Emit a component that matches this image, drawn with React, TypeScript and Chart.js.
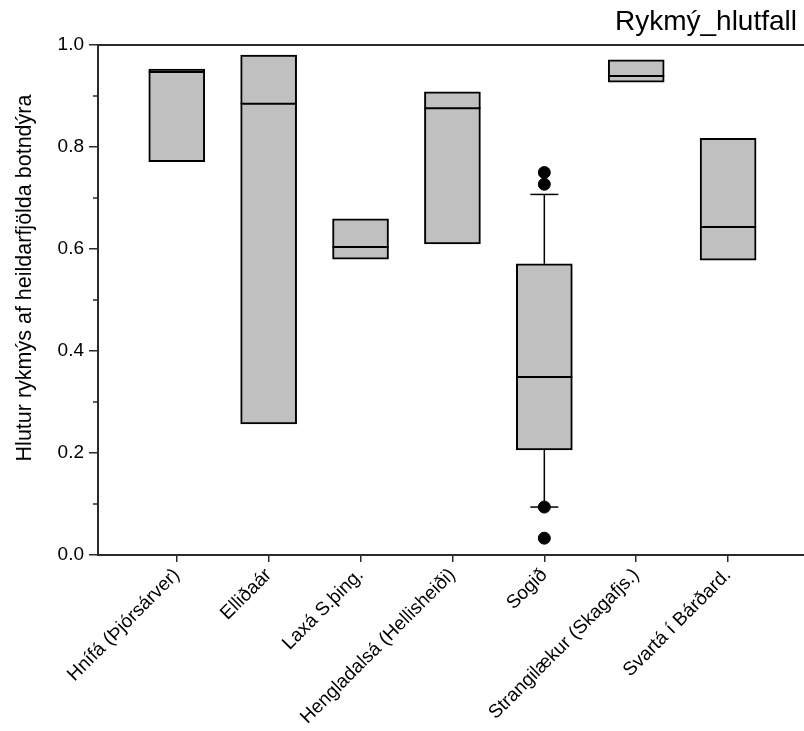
import React, { useEffect, useRef } from 'react';
import { Chart, registerables } from 'chart.js';

Chart.register(...registerables);

const chartTitle = 'Rykmý_hlutfall';
const yTitle = 'Hlutur rykmýs af heildarfjölda botndýra';
const categories = [
  'Hnífá (Þjórsárver)',
  'Elliðaár',
  'Laxá S.þing.',
  'Hengladalsá (Hellisheiði)',
  'Sogið',
  'Strangilækur (Skagafjs.)',
  'Svartá í Bárðard.',
];
const q1 = [0.771, 0.257, 0.58, 0.61, 0.206, 0.927, 0.578];
const medians = [0.947, 0.885, 0.604, 0.876, 0.349, 0.939, 0.643];
const q3 = [0.953, 0.98, 0.659, 0.908, 0.571, 0.971, 0.817];
const whiskerLow: (number | null)[] = [null, null, null, null, 0.094, null, null];
const whiskerHigh: (number | null)[] = [null, null, null, null, 0.707, null, null];
const outlierCategory = [5, 5, 5, 5];
const outlierValues = [0.75, 0.727, 0.094, 0.033];
const yTicks = [0, 0.2, 0.4, 0.6, 0.8, 1.0];
const yMinorTicks = [0.1, 0.3, 0.5, 0.7, 0.9];

const FONT = '"Liberation Sans", Arial, sans-serif';
const AXIS_COLOR = '#2a2a2a';

const extrasPlugin = {
  id: 'boxExtras',
  afterDatasetsDraw(chart: any) {
    const { ctx, scales } = chart;
    const x = scales.x;
    const y = scales.y;
    const meta = chart.getDatasetMeta(0);
    ctx.save();
    ctx.strokeStyle = '#000';
    const line = (x1: number, y1: number, x2: number, y2: number, w: number) => {
      ctx.lineWidth = w;
      ctx.beginPath();
      ctx.moveTo(x1, y1);
      ctx.lineTo(x2, y2);
      ctx.stroke();
    };
    categories.forEach((_, i) => {
      const bar = meta.data[i];
      const half = bar.width / 2;
      const cx = x.getPixelForValue(i + 1);
      const my = y.getPixelForValue(medians[i]);
      line(cx - half, my, cx + half, my, 2);
      const wh = whiskerHigh[i];
      if (wh != null) {
        const top = y.getPixelForValue(wh);
        line(cx, y.getPixelForValue(q3[i]), cx, top, 1.5);
        line(cx - half / 2, top, cx + half / 2, top, 1.5);
      }
      const wl = whiskerLow[i];
      if (wl != null) {
        const bot = y.getPixelForValue(wl);
        line(cx, y.getPixelForValue(q1[i]), cx, bot, 1.5);
        line(cx - half / 2, bot, cx + half / 2, bot, 1.5);
      }
    });
    ctx.restore();
  },
  afterDraw(chart: any) {
    const { ctx, scales } = chart;
    const y = scales.y;
    ctx.save();
    ctx.strokeStyle = AXIS_COLOR;
    ctx.lineWidth = 1.5;
    yMinorTicks.forEach((v) => {
      const py = y.getPixelForValue(v);
      ctx.beginPath();
      ctx.moveTo(y.right - 5, py);
      ctx.lineTo(y.right, py);
      ctx.stroke();
    });
    ctx.fillStyle = '#000';
    ctx.font = `28px ${FONT}`;
    ctx.textAlign = 'right';
    ctx.textBaseline = 'alphabetic';
    ctx.fillText(chartTitle, 797, 30);
    ctx.translate(25, 278);
    ctx.rotate(-Math.PI / 2);
    ctx.font = `21.5px ${FONT}`;
    ctx.textAlign = 'center';
    ctx.textBaseline = 'middle';
    ctx.fillText(yTitle, 0, 0);
    ctx.restore();
  },
};

export default function App() {
  const ref = useRef<HTMLCanvasElement>(null);
  useEffect(() => {
    if (!ref.current) return;
    const xMin = 0.143;
    const xMax = 7.826;
    const chart = new Chart(ref.current, {
      type: 'bar',
      data: {
        datasets: [
          {
            type: 'bar',
            data: categories.map((_, i) => ({ x: i + 1, y: [q1[i], q3[i]] })) as any,
            backgroundColor: '#c0c0c0',
            borderColor: '#000',
            borderWidth: 2,
            borderSkipped: false,
            barThickness: 56,
            xAxisID: 'x',
            yAxisID: 'y',
          } as any,
          {
            type: 'scatter',
            data: outlierValues.map((v, i) => ({ x: outlierCategory[i], y: v })),
            backgroundColor: '#000',
            borderColor: '#000',
            pointRadius: 6,
            pointHoverRadius: 6,
            xAxisID: 'x',
            yAxisID: 'y',
          } as any,
        ],
      },
      options: {
        animation: false,
        responsive: false,
        layout: { padding: 0 },
        plugins: {
          legend: { display: false },
          tooltip: { enabled: false },
          title: { display: false },
        },
        scales: {
          x: {
            type: 'linear',
            position: 'bottom',
            min: xMin,
            max: xMax,
            offset: false,
            afterFit: (s: any) => {
              s.height = 176;
            },
            afterBuildTicks: (s: any) => {
              s.ticks = categories.map((_, i) => ({ value: i + 1 }));
            },
            ticks: {
              autoSkip: false,
              minRotation: 45,
              maxRotation: 45,
              padding: 2,
              color: '#000',
              font: { size: 19, family: FONT },
              callback: (v: any) => categories[Number(v) - 1] ?? '',
            },
            grid: {
              offset: false,
              drawOnChartArea: false,
              tickLength: 7,
              color: AXIS_COLOR,
              lineWidth: 1.5,
            },
            border: { display: true, color: AXIS_COLOR, width: 2 },
          },
          x2: {
            type: 'linear',
            position: 'top',
            min: xMin,
            max: xMax,
            afterFit: (s: any) => {
              s.height = 45;
            },
            ticks: { display: false },
            grid: { display: false },
            border: { display: true, color: AXIS_COLOR, width: 2 },
          },
          y: {
            type: 'linear',
            position: 'left',
            min: 0,
            max: 1,
            afterFit: (s: any) => {
              s.width = 98;
            },
            afterBuildTicks: (s: any) => {
              s.ticks = yTicks.map((v) => ({ value: v }));
            },
            ticks: {
              padding: 5,
              color: '#000',
              font: { size: 19, family: FONT },
              callback: (v: any) => Number(v).toFixed(1),
            },
            grid: {
              drawOnChartArea: false,
              tickLength: 9,
              color: AXIS_COLOR,
              lineWidth: 1.5,
            },
            border: { display: true, color: AXIS_COLOR, width: 2 },
            title: { display: false },
          },
        },
      } as any,
      plugins: [extrasPlugin],
    });
    return () => chart.destroy();
  }, []);
  return (
    <div style={{ position: 'absolute', left: 0, top: 0, width: 804, height: 731, overflow: 'hidden', background: '#fff' }}>
      <canvas ref={ref} width={811} height={731} style={{ display: 'block' }} />
    </div>
  );
}
